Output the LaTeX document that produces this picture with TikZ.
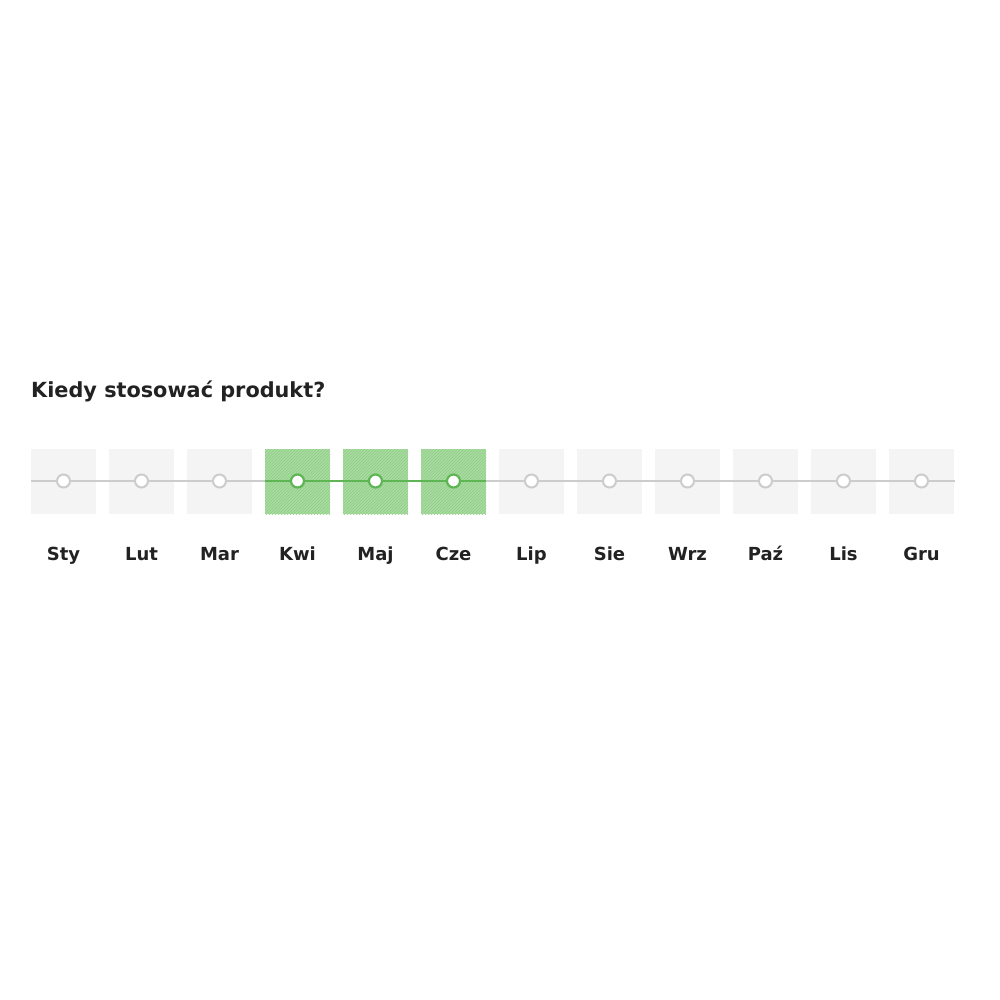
\documentclass[tikz,border=0pt]{standalone}
\usepackage{fontspec}
\setmainfont{DejaVu Sans}
\usetikzlibrary{patterns}
\definecolor{tilegray}{HTML}{F4F4F4}
\definecolor{linegray}{HTML}{CCCCCC}
\definecolor{tilegreen}{HTML}{A9DCA1}
\definecolor{hatchgreen}{HTML}{8FCC86}
\definecolor{linegreen}{HTML}{5DB553}
\definecolor{textdark}{HTML}{222222}
\tikzset{
  x=1pt, y=-1pt,
  tile/.style={fill=tilegray, draw=none, minimum width=65pt, minimum height=65pt, inner sep=0pt},
  greentile/.style={fill=tilegreen, draw=none, minimum width=65pt, minimum height=65pt, inner sep=0pt,
     postaction={pattern=north east lines, pattern color=hatchgreen}},
  dot/.style={circle, fill=white, draw=linegray, line width=2pt, minimum size=13pt, inner sep=0pt},
  greendot/.style={circle, fill=white, draw=linegreen, line width=2.2pt, minimum size=13pt, inner sep=0pt},
  month/.style={font=\bfseries\fontsize{18}{20}\selectfont, text=textdark, anchor=base},
}
\begin{document}
\begin{tikzpicture}
\useasboundingbox[fill=white] (0,0) rectangle (1000,1000);
\node[anchor=base west, font=\bfseries\fontsize{20.8}{24}\selectfont, text=textdark, inner sep=0pt] (title) at (31,397) {Kiedy stosować produkt?};
% tiles
\foreach \i/\m in {0/Sty,1/Lut,2/Mar,3/Kwi,4/Maj,5/Cze,6/Lip,7/Sie,8/Wrz,9/Paź,10/Lis,11/Gru}{
  \pgfmathsetmacro{\cx}{63.5+78*\i}
  \ifnum\i>2 \ifnum\i<6
    \node[greentile] (t\i) at (\cx,481.5) {};
  \else
    \node[tile] (t\i) at (\cx,481.5) {};
  \fi \else
    \node[tile] (t\i) at (\cx,481.5) {};
  \fi
  \node[month] (m\i) at (\cx,560) {\m};
}
\coordinate (start) at (31,481);
\coordinate (end) at (955,481);
\coordinate (gstart) at (t3.west |- start);
\coordinate (gend) at (t5.east |- start);
\draw[linegray, line width=2pt] (start) -- (gstart);
\draw[linegray, line width=2pt] (gend) -- (end);
\draw[linegreen, line width=2.8pt] (gstart) -- (gend);
\foreach \i in {0,1,2,6,7,8,9,10,11}{
  \node[dot] (d\i) at (t\i |- start) {};
}
\foreach \i in {3,4,5}{
  \node[greendot] (d\i) at (t\i |- start) {};
}
\end{tikzpicture}
\end{document}
